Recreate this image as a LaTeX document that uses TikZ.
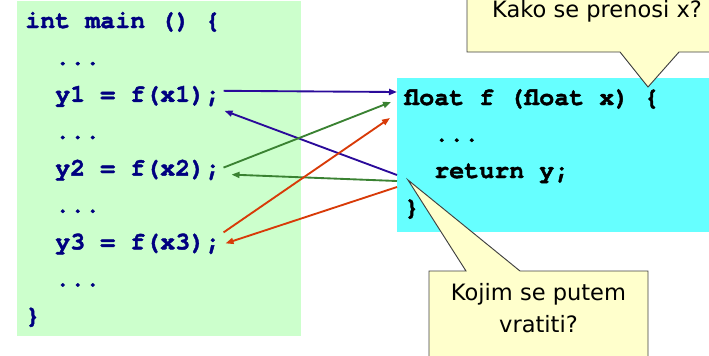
\documentclass[tikz,border=0pt]{standalone}
\usepackage{fontspec}
\setmonofont{texgyrecursor}[Extension=.otf, UprightFont=*-regular, BoldFont=*-bold, BoldFeatures={FakeBold=1.6}]
\newfontfamily\callfont{DejaVu Sans}
\usetikzlibrary{arrows.meta}
\definecolor{mgreen}{HTML}{CCFFCC}
\definecolor{fcyan}{HTML}{66FFFF}
\definecolor{cyell}{HTML}{FFFFCC}
\definecolor{codenavy}{HTML}{000080}
\definecolor{ablue}{HTML}{2A0A9A}
\definecolor{agreen}{HTML}{3A8232}
\definecolor{ared}{HTML}{D83A08}
\begin{document}
\begin{tikzpicture}[x=0.75pt,y=-0.75pt,
  code/.style={anchor=base west, inner sep=0pt, font=\fontsize{18.75}{22}\selectfont\ttfamily\bfseries},
  maincode/.style={code, text=codenavy},
  fcode/.style={code, text=black},
  boxfill/.style={inner sep=0pt, anchor=north west, draw=none},
  callout/.style={fill=cyell, draw=black!75, line width=0.7pt, line join=miter},
  calltext/.style={anchor=base, inner sep=0pt, font=\fontsize{16.9}{20}\selectfont\callfont},
  arr/.style={line width=1.4pt, -{Triangle[length=6pt,width=4.5pt]}}
]
\useasboundingbox (0,0) rectangle (709,355);
\clip (0,0) rectangle (709,355);
% boxes
\node[boxfill, fill=mgreen, minimum width=213pt, minimum height=251.25pt] (mbox) at (17,1) {};
\node[boxfill, fill=fcyan, minimum width=240pt, minimum height=115.5pt] (fbox) at (397,78) {};
% main code
\node[maincode] (m0) at (25,28) {int main () \{};
\node[maincode] (m1) at (55,64.9) {...};
\node[maincode] (m2) at (55,101.8) {y1 = f(x1);};
\node[maincode] (m3) at (55,138.7) {...};
\node[maincode] (m4) at (55,175.6) {y2 = f(x2);};
\node[maincode] (m5) at (55,212.5) {...};
\node[maincode] (m6) at (55,249.4) {y3 = f(x3);};
\node[maincode] (m7) at (55,286.3) {...};
\node[maincode] (m8) at (25,323.2) {\}};
% function code
\node[fcode] (f0) at (404,105) {float f (float x) \{};
\node[fcode] (f1) at (434,141.5) {...};
\node[fcode] (f2) at (434,178) {return y;};
\node[fcode] (f3) at (404,215) {\}};
% arrows
\draw[arr, ablue] ([shift={(3,-11)}]m2.base east) -- ([shift={(0,14)}]fbox.north west);
\draw[arr, ablue] ([shift={(0,97)}]fbox.north west) -- ([shift={(4,9)}]m2.base east);
\draw[arr, agreen] ([shift={(3,-8)}]m4.base east) -- ([shift={(-6,24)}]fbox.north west);
\draw[arr, agreen] ([shift={(0,103)}]fbox.north west) -- ([shift={(11,-1)}]m4.base east);
\draw[arr, ared] ([shift={(3,-17)}]m6.base east) -- ([shift={(-7,40)}]fbox.north west);
\draw[arr, ared] ([shift={(0,109)}]fbox.north west) -- ([shift={(5,-6)}]m6.base east);
% callouts
\filldraw[callout] (467,-5) -- (467,52) -- (620,52) -- (648,87) -- (679,52) -- (730,52) -- (730,-5) -- cycle;
\node[calltext] (k0) at (597,17) {Kako se prenosi x?};
\filldraw[callout] (429,365) -- (429,271) -- (466,271) -- (408,180) -- (520,271) -- (648,271) -- (648,365) -- cycle;
\node[calltext] (k1) at (538.5,300) {Kojim se putem};
\node[calltext] (k2) at (538.5,332) {vratiti?};
\end{tikzpicture}
\end{document}
